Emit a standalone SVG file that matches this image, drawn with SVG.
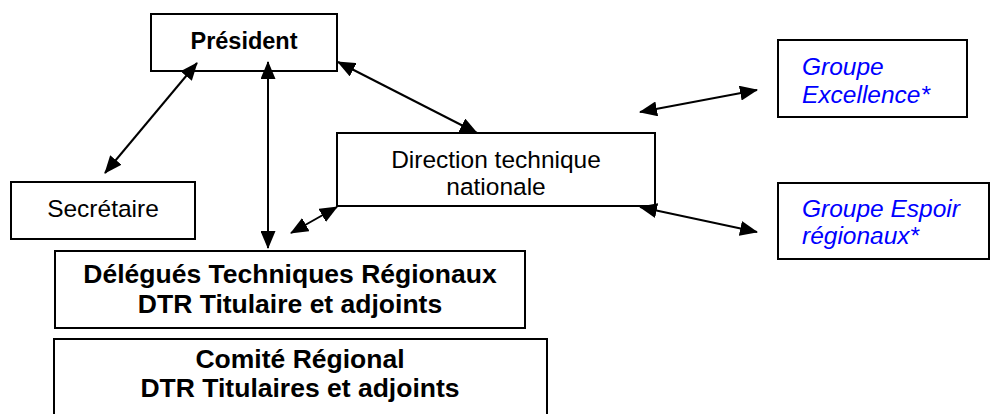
<svg xmlns="http://www.w3.org/2000/svg" width="992" height="414" viewBox="0 0 992 414">
<style>
.box{fill:#fff;stroke:#000;stroke-width:2}
.t{font-family:"Liberation Sans",Arial,sans-serif;font-size:24.5px;fill:#000}
.b{font-weight:bold;font-size:26.5px}
.blue{fill:#0000ff;font-style:italic}
.c{stroke:#000;stroke-width:2;fill:none;marker-start:url(#ah);marker-end:url(#ah)}
</style>
<defs>
<marker id="ah" markerUnits="userSpaceOnUse" markerWidth="18" markerHeight="15" viewBox="0 0 18 15" refX="17" refY="7.5" orient="auto-start-reverse">
<path d="M0,0 L18,7.5 L0,15 z" fill="#000"/>
</marker>
</defs>
<rect width="992" height="414" fill="#fff"/>
<g id="president">
<rect class="box" x="151" y="14" width="186" height="57"/>
<text class="t b" x="244" y="49" text-anchor="middle" style="font-size:23.5px">Président</text>
</g>
<g id="secretaire">
<rect class="box" x="11" y="182" width="184" height="57"/>
<text class="t" x="103" y="217" text-anchor="middle">Secrétaire</text>
</g>
<g id="direction">
<rect class="box" x="337" y="133" width="318" height="73"/>
<text class="t" x="496" y="168" text-anchor="middle">Direction technique</text>
<text class="t" x="496" y="195" text-anchor="middle">nationale</text>
</g>
<g id="excellence">
<rect class="box" x="778" y="40" width="189" height="77"/>
<text class="t blue" x="802" y="75">Groupe</text>
<text class="t blue" x="802" y="103">Excellence*</text>
</g>
<g id="espoir">
<rect class="box" x="778" y="183" width="211" height="76"/>
<text class="t blue" x="802" y="217">Groupe Espoir</text>
<text class="t blue" x="802" y="244">régionaux*</text>
</g>
<g id="dtr">
<rect class="box" x="55" y="251" width="470" height="77"/>
<text class="t b" x="290" y="283" text-anchor="middle">Délégués Techniques Régionaux</text>
<text class="t b" x="290" y="313" text-anchor="middle">DTR Titulaire et adjoints</text>
</g>
<g id="comite">
<rect class="box" x="54" y="339" width="493" height="80"/>
<text class="t b" x="300" y="368" text-anchor="middle">Comité Régional</text>
<text class="t b" x="300" y="397" text-anchor="middle">DTR Titulaires et adjoints</text>
</g>
<g id="connectors">
<line class="c" x1="197" y1="63" x2="105" y2="173"/>
<line class="c" x1="268" y1="62" x2="268" y2="248"/>
<line class="c" x1="338" y1="62" x2="477" y2="133"/>
<line class="c" x1="337" y1="207" x2="291" y2="233"/>
<line class="c" x1="640" y1="112" x2="757" y2="90"/>
<line class="c" x1="640" y1="207" x2="757" y2="232"/>
</g>
</svg>
